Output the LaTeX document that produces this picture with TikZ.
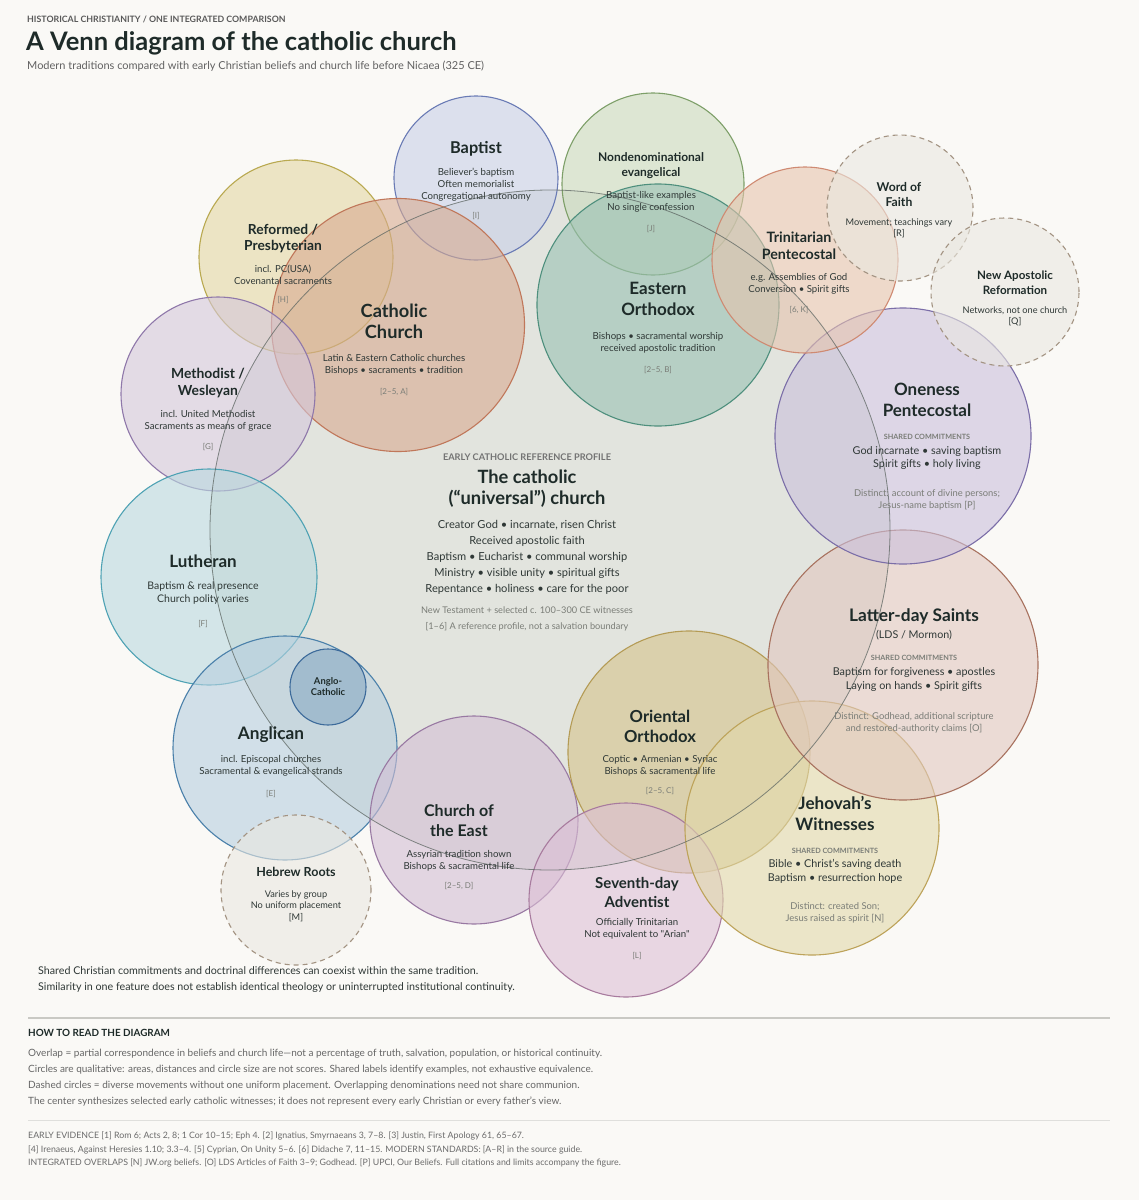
\documentclass[tikz,border=0pt]{standalone}
\usepackage{fontspec}
\setmainfont{Lato}[Ligatures=TeXOff]
\usepackage{xcolor}
\usetikzlibrary{positioning}

\definecolor{paper}{HTML}{FAF9F6}
\definecolor{hubfill}{HTML}{E2E4DE}
\definecolor{hubline}{HTML}{5C6561}
\definecolor{ink}{HTML}{1E2B29}
\definecolor{body}{HTML}{2F3836}
\definecolor{muted}{HTML}{7A7D77}
\definecolor{rulegray}{HTML}{C9C9C4}
% circle colours: line / fill
\definecolor{baptistline}{HTML}{6A7BB5}   \definecolor{baptistfill}{HTML}{C9D0E8}
\definecolor{nondenomline}{HTML}{7D9F68}  \definecolor{nondenomfill}{HTML}{CADABD}
\definecolor{orthline}{HTML}{4E8F7D}      \definecolor{orthfill}{HTML}{99C1B4}
\definecolor{catholicline}{HTML}{C0775A}  \definecolor{catholicfill}{HTML}{D8AB91}
\definecolor{reformedline}{HTML}{B9A950}  \definecolor{reformedfill}{HTML}{E3D6A3}
\definecolor{methodline}{HTML}{8F78AA}    \definecolor{methodfill}{HTML}{D4C7DB}
\definecolor{lutherline}{HTML}{4EA2B4}    \definecolor{lutherfill}{HTML}{B9D9DF}
\definecolor{anglicanline}{HTML}{4A80AA}  \definecolor{anglicanfill}{HTML}{B7CFDF}
\definecolor{angloline}{HTML}{3C6A9A}     \definecolor{anglofill}{HTML}{8AAAC4}
\definecolor{eastline}{HTML}{9878A2}      \definecolor{eastfill}{HTML}{D3BED4}
\definecolor{orientline}{HTML}{B49B55}    \definecolor{orientfill}{HTML}{D5C38C}
\definecolor{adventline}{HTML}{A87B9E}    \definecolor{adventfill}{HTML}{DCBFD5}
\definecolor{jwline}{HTML}{BDA35A}        \definecolor{jwfill}{HTML}{E1D8AA}
\definecolor{ldsline}{HTML}{A8725F}       \definecolor{ldsfill}{HTML}{E1C7BF}
\definecolor{onenessline}{HTML}{7B6EA8}   \definecolor{onenessfill}{HTML}{CAC0DC}
\definecolor{trinline}{HTML}{CF8A72}      \definecolor{trinfill}{HTML}{E6C4AE}
\definecolor{looseline}{HTML}{A39382}     \definecolor{loosefill}{HTML}{EAE8E1}

\begin{document}
\begin{tikzpicture}[
    x = 1pt, y = -1pt,
    church/.style = {
      circle, inner sep = 0pt, line width = 1.1pt, fill opacity = 0.6
    },
    loose/.style = {
      church, draw = looseline, fill = loosefill,
      dash pattern = on 5pt off 4pt
    },
    heading/.style = {font = \bfseries\fontsize{17.2}{21}\selectfont, text = ink,
                      align = center, inner sep = 0pt},
    note/.style  = {font = \fontsize{9.65}{12}\selectfont, text = body,
                    align = center, inner sep = 0pt},
    big note/.style = {note, font = \fontsize{10.8}{13.5}\selectfont},
    refs/.style  = {font = \fontsize{8}{10}\selectfont, text = muted, inner sep = 0pt},
    tag/.style   = {font = \bfseries\fontsize{7.25}{9}\selectfont, text = muted, inner sep = 0pt},
    aside/.style = {font = \fontsize{9.4}{12}\selectfont, text = muted,
                    align = center, inner sep = 0pt},
    foot/.style  = {anchor = west, align = left, inner sep = 0pt}
  ]
    \useasboundingbox[fill = paper] (0,0) rectangle (1139,1200);

    % ── Header ───────────────────────────────────────────────────────────────
    \node[foot, font = \bfseries\fontsize{8.8}{11}\selectfont, text = black!65]
      (kicker) at (27,19) {HISTORICAL CHRISTIANITY / ONE INTEGRATED COMPARISON};
    \node[foot, font = \bfseries\fontsize{25.5}{30}\selectfont, text = ink]
      (title) at (26,43) {A Venn diagram of the catholic church};
    \node[foot, font = \fontsize{11}{14}\selectfont, text = black!62]
      (subtitle) at (27,66) {Modern traditions compared with early Christian beliefs and church life before Nicaea (325 CE)};

    % ── Circles ──────────────────────────────────────────────────────────────
    \node[circle, inner sep = 0pt, fill = hubfill, minimum size = 680pt] (hub) at (550,530) {};

    \node[church, draw = baptistline,  fill = baptistfill,  minimum size = 164pt] (baptist)  at (476,178) {};
    \node[church, draw = nondenomline, fill = nondenomfill, minimum size = 182pt] (nondenom) at (653,184) {};
    \node[church, draw = orthline,     fill = orthfill,     minimum size = 242pt] (orthodox) at (658,305) {};
    \node[church, draw = reformedline, fill = reformedfill, minimum size = 194pt] (reformed) at (296,257) {};
    \node[church, draw = catholicline, fill = catholicfill, minimum size = 253pt] (catholic) at (398,325) {};
    \node[church, draw = methodline,   fill = methodfill,   minimum size = 194pt] (methodist) at (218,394) {};
    \node[church, draw = lutherline,   fill = lutherfill,   minimum size = 216pt] (lutheran) at (209,577) {};
    \node[church, draw = anglicanline, fill = anglicanfill, minimum size = 224pt] (anglican) at (285,748) {};
    \node[church, draw = angloline,    fill = anglofill,    minimum size = 76pt]  (anglo)    at (328,687) {};
    \node[loose,  minimum size = 150pt] (hebrew) at (296,890) {};
    \node[church, draw = eastline,     fill = eastfill,     minimum size = 208pt] (east)     at (474,820) {};
    \node[church, draw = orientline,   fill = orientfill,   minimum size = 242pt] (oriental) at (689,752) {};
    \node[church, draw = adventline,   fill = adventfill,   minimum size = 194pt] (advent)   at (626,900) {};
    \node[church, draw = jwline,       fill = jwfill,       minimum size = 254pt] (jw)       at (812,828) {};
    \node[church, draw = ldsline,      fill = ldsfill,      minimum size = 270pt] (lds)      at (903,665) {};
    \node[church, draw = onenessline,  fill = onenessfill,  minimum size = 256pt] (oneness)  at (903,436) {};
    \node[church, draw = trinline,     fill = trinfill,     minimum size = 186pt] (trinitarian) at (805,260) {};
    \node[loose,  minimum size = 146pt] (faith) at (900,208) {};
    \node[loose,  minimum size = 148pt] (nar)   at (1005,292) {};

    \node[circle, inner sep = 0pt, draw = hubline, line width = 0.8pt, draw opacity = 0.75,
          minimum size = 680pt] (hubedge) at (hub) {};

    % ── Labels ───────────────────────────────────────────────────────────────
    \node[heading, font = \bfseries\fontsize{16.3}{21}\selectfont] (baptistname) at (476,149) {Baptist};
    \node[note] (baptisttext) at (476,185) {Believer’s baptism\\Often memorialist\\Congregational autonomy};
    \node[refs] (baptistref) at (476,216) {[I]};

    \node[heading, font = \bfseries\fontsize{12}{15}\selectfont] (nondenomname) at (651,165.5) {Nondenominational\\evangelical};
    \node[note] (nondenomtext) at (651,202) {Baptist-like examples\\No single confession};
    \node[refs] (nondenomref) at (651,229) {[J]};

    \node[heading, font = \bfseries\fontsize{17}{21}\selectfont] (orthodoxname) at (658,298.5) {Eastern\\Orthodox};
    \node[note] (orthodoxtext) at (658,343) {Bishops • sacramental worship\\received apostolic tradition};
    \node[refs] (orthodoxref) at (658,370) {[2–5, B]};

    \node[heading, font = \bfseries\fontsize{18.2}{21.5}\selectfont] (catholicname) at (394,321.5) {Catholic\\Church};
    \node[note] (catholictext) at (394,364.5) {Latin \& Eastern Catholic churches\\Bishops • sacraments • tradition};
    \node[refs] (catholicref) at (394,392) {[2–5, A]};

    \node[heading, font = \bfseries\fontsize{13.8}{16}\selectfont] (reformedname) at (283,239) {Reformed /\\Presbyterian};
    \node[note] (reformedtext) at (283,274.5) {incl. PC(USA)\\Covenantal sacraments};
    \node[refs] (reformedref) at (283,300) {[H]};

    \node[heading, font = \bfseries\fontsize{14.3}{17}\selectfont] (trinitarianname) at (799,245.5) {Trinitarian\\Pentecostal};
    \node[note] (trinitariantext) at (799,284) {e.g. Assemblies of God\\Conversion • Spirit gifts};
    \node[refs] (trinitarianref) at (799,310) {[6, K]};

    \node[heading, font = \bfseries\fontsize{12.2}{15}\selectfont] (faithname) at (899,194.5) {Word of\\Faith};
    \node[note, font = \fontsize{9.2}{11.5}\selectfont] (faithtext) at (899,228.5) {Movement; teachings vary\\{}[R]};

    \node[heading, font = \bfseries\fontsize{11.6}{15}\selectfont] (narname) at (1015,282.5) {New Apostolic\\Reformation};
    \node[note, font = \fontsize{9.2}{11.5}\selectfont] (nartext) at (1015,316.5) {Networks, not one church\\{}[Q]};

    \node[heading, font = \bfseries\fontsize{13.9}{17}\selectfont] (methodistname) at (208,382.5) {Methodist /\\Wesleyan};
    \node[note] (methodisttext) at (208,421) {incl. United Methodist\\Sacraments as means of grace};
    \node[refs] (methodistref) at (208,447) {[G]};

    \node[tag, font = \bfseries\fontsize{9.2}{10}\selectfont, text = black!55] (hubtag) at (527,457) {EARLY CATHOLIC REFERENCE PROFILE};
    \node[heading, font = \bfseries\fontsize{18.3}{21}\selectfont] (hubname) at (527,488.5) {The catholic\\(“universal”) church};
    \node[note, font = \fontsize{11.1}{16}\selectfont] (hubtext) at (527,557)
      {Creator God • incarnate, risen Christ\\Received apostolic faith\\Baptism • Eucharist • communal worship\\Ministry • visible unity • spiritual gifts\\Repentance • holiness • care for the poor};
    \node[aside, font = \fontsize{9.2}{16}\selectfont] (hubref) at (527,619)
      {New Testament + selected c. 100–300 CE witnesses\\{}[1–6] A reference profile, not a salvation boundary};

    \node[heading, font = \bfseries\fontsize{17}{21}\selectfont] (onenessname) at (927,399.5) {Oneness\\Pentecostal};
    \node[tag] (onenesstag) at (927,437) {SHARED COMMITMENTS};
    \node[big note] (onenesstext) at (927,458) {God incarnate • saving baptism\\Spirit gifts • holy living};
    \node[aside] (onenessaside) at (927,500) {Distinct: account of divine persons;\\Jesus-name baptism [P]};

    \node[heading, font = \bfseries\fontsize{17}{21}\selectfont] (lutheranname) at (203,561) {Lutheran};
    \node[note, font = \fontsize{10.5}{13}\selectfont] (lutherantext) at (203,593.5) {Baptism \& real presence\\Church polity varies};
    \node[refs] (lutheranref) at (203,624) {[F]};

    \node[heading, font = \bfseries\fontsize{17.3}{21}\selectfont] (ldsname) at (914,617) {Latter-day Saints};
    \node[note, font = \fontsize{10.7}{13}\selectfont] (ldssub) at (914,635) {(LDS / Mormon)};
    \node[tag] (ldstag) at (914,658) {SHARED COMMITMENTS};
    \node[big note] (ldstext) at (914,679.5) {Baptism for forgiveness • apostles\\Laying on hands • Spirit gifts};
    \node[aside] (ldsaside) at (914,723) {Distinct: Godhead, additional scripture\\and restored-authority claims [O]};

    \node[heading, font = \bfseries\fontsize{9.4}{11}\selectfont] (angloname) at (328,687) {Anglo-\\Catholic};

    \node[heading] (anglicanname) at (271,735) {Anglican};
    \node[note] (anglicantext) at (271,765.5) {incl. Episcopal churches\\Sacramental \& evangelical strands};
    \node[refs] (anglicanref) at (271,794) {[E]};

    \node[heading, font = \bfseries\fontsize{16.6}{20}\selectfont] (orientalname) at (660,726) {Oriental\\Orthodox};
    \node[note] (orientaltext) at (660,766) {Coptic • Armenian • Syriac\\Bishops \& sacramental life};
    \node[refs] (orientalref) at (660,791) {[2–5, C]};

    \node[heading, font = \bfseries\fontsize{17.1}{21}\selectfont] (jwname) at (835,813.5) {Jehovah’s\\Witnesses};
    \node[tag] (jwtag) at (835,851) {SHARED COMMITMENTS};
    \node[big note] (jwtext) at (835,871.5) {Bible • Christ’s saving death\\Baptism • resurrection hope};
    \node[aside] (jwaside) at (835,913) {Distinct: created Son;\\Jesus raised as spirit [N]};

    \node[heading, font = \bfseries\fontsize{16}{20}\selectfont] (eastname) at (459,820.5) {Church of\\the East};
    \node[note] (easttext) at (459,861) {Assyrian tradition shown\\Bishops \& sacramental life};
    \node[refs] (eastref) at (459,886) {[2–5, D]};

    \node[heading, font = \bfseries\fontsize{15}{18.5}\selectfont] (adventname) at (637,892.5) {Seventh-day\\Adventist};
    \node[note] (adventtext) at (637,929) {Officially Trinitarian\\Not equivalent to "Arian"};
    \node[refs] (adventref) at (637,956) {[L]};

    \node[heading, font = \bfseries\fontsize{12.5}{15}\selectfont] (hebrewname) at (296,872) {Hebrew Roots};
    \node[note, font = \fontsize{9.2}{11.5}\selectfont] (hebrewtext) at (296,906) {Varies by group\\No uniform placement\\{}[M]};

    % ── Notes ────────────────────────────────────────────────────────────────
    \node[foot, font = \fontsize{10.7}{16}\selectfont, text = body] (caveat) at (38,980)
      {Shared Christian commitments and doctrinal differences can coexist within the same tradition.\\
       Similarity in one feature does not establish identical theology or uninterrupted institutional continuity.};

    \draw[rulegray, line width = 1.2pt] (28,1018) -- (1110,1018);
    \node[foot, font = \bfseries\fontsize{9.9}{11}\selectfont, text = ink] (howto) at (28,1033) {HOW TO READ THE DIAGRAM};
    \node[foot, font = \fontsize{10}{16}\selectfont, text = black!60] (legend) at (28,1078)
      {Overlap = partial correspondence in beliefs and church life—not a percentage of truth, salvation, population, or historical continuity.\\
       Circles are qualitative: areas, distances and circle size are not scores. Shared labels identify examples, not exhaustive equivalence.\\
       Dashed circles = diverse movements without one uniform placement. Overlapping denominations need not share communion.\\
       The center synthesizes selected early catholic witnesses; it does not represent every early Christian or every father’s view.};

    \draw[rulegray!60, line width = 0.8pt] (28,1120) -- (1110,1120);
    \node[foot, font = \fontsize{8.8}{13.5}\selectfont, text = black!58] (sources) at (28,1149.5)
      {EARLY EVIDENCE [1] Rom 6; Acts 2, 8; 1 Cor 10–15; Eph 4. [2] Ignatius, Smyrnaeans 3, 7–8. [3] Justin, First Apology 61, 65–67.\\
       {}[4] Irenaeus, Against Heresies 1.10; 3.3–4. [5] Cyprian, On Unity 5–6. [6] Didache 7, 11–15. MODERN STANDARDS: [A–R] in the source guide.\\
       INTEGRATED OVERLAPS [N] JW.org beliefs. [O] LDS Articles of Faith 3–9; Godhead. [P] UPCI, Our Beliefs. Full citations and limits accompany the figure.};
  \end{tikzpicture}
\end{document}
